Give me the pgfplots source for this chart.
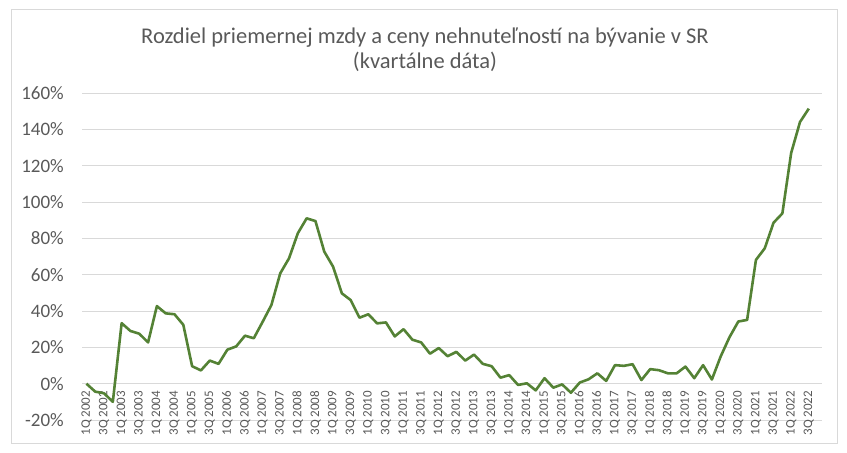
\documentclass[border=0pt]{standalone}
\usepackage{pgfplots}
\pgfplotsset{compat=1.18}
\usepackage{fontspec}
\setmainfont{Carlito}
\definecolor{txt}{HTML}{595959}
\definecolor{grd}{HTML}{D9D9D9}
\definecolor{ln}{HTML}{548235}
\pgfplotstableread{
x y
0 0
1 -4.4
2 -5.3
3 -10
4 33.3
5 29
6 27.5
7 22.7
8 42.7
9 38.7
10 38.2
11 32.4
12 9.6
13 7.3
14 12.7
15 10.9
16 18.7
17 20.5
18 26.4
19 25
20 34
21 43.3
22 60.7
23 69
24 82.8
25 91
26 89.5
27 72.7
28 64.4
29 49.7
30 46
31 36.3
32 38.2
33 33.2
34 33.7
35 26
36 30
37 24.2
38 22.7
39 16.5
40 19.6
41 15.1
42 17.5
43 12.7
44 16
45 10.9
46 9.6
47 3.3
48 4.7
49 -0.7
50 0.2
51 -3.7
52 3
53 -2.2
54 -0.4
55 -5
56 0.6
57 2.4
58 5.7
59 1.5
60 10.2
61 9.8
62 10.7
63 2
64 8
65 7.4
66 5.7
67 5.7
68 9.4
69 3
70 10.2
71 2.3
72 15
73 25.6
74 34.2
75 35.1
76 68.1
77 74.5
78 88.6
79 93.7
80 127
81 144
82 151.4
}\datatable
\begin{document}
\begin{tikzpicture}[x=1bp,y=1bp]
\path[use as bounding box] (0,0) rectangle (847,453);
\draw[grd, line width=0.75bp] (11,10) rectangle (837,444);
\node[txt, font=\fontsize{22.5bp}{25bp}\selectfont, align=center] at (425,403) {Rozdiel priemernej mzdy a ceny nehnuteľností na bývanie v SR\\(kvartálne dáta)};
\begin{axis}[
  at={(82bp,33bp)}, anchor=south west, scale only axis,
  width=740bp, height=327bp,
  xmin=-0.5, xmax=83.5, ymin=-20, ymax=160,
  axis x line*=middle, axis y line*=left,
  hide obscured x ticks=false, hide obscured y ticks=false,
  x axis line style={grd, line width=0.75bp, -},
  y axis line style={draw=none},
  major tick style={draw=none}, minor tick style={draw=none},
  ymajorgrids, grid style={grd, line width=0.75bp},
  ytick={-20,0,20,40,60,80,100,120,140,160},
  yticklabels={-20\%,0\%,20\%,40\%,60\%,80\%,100\%,120\%,140\%,160\%},
  yticklabel style={txt, font=\fontsize{19bp}{19bp}\selectfont, anchor=east, inner sep=0pt},
  yticklabel shift=18bp,
  xtick={0,2,...,82},
  xticklabels={1Q 2002,3Q 2002,1Q 2003,3Q 2003,1Q 2004,3Q 2004,1Q 2005,3Q 2005,1Q 2006,3Q 2006,1Q 2007,3Q 2007,1Q 2008,3Q 2008,1Q 2009,3Q 2009,1Q 2010,3Q 2010,1Q 2011,3Q 2011,1Q 2012,3Q 2012,1Q 2013,3Q 2013,1Q 2014,3Q 2014,1Q 2015,3Q 2015,1Q 2016,3Q 2016,1Q 2017,3Q 2017,1Q 2018,3Q 2018,1Q 2019,3Q 2019,1Q 2020,3Q 2020,1Q 2021,3Q 2021,1Q 2022,3Q 2022},
  xticklabel style={txt, font=\fontsize{13bp}{13bp}\selectfont, rotate=90, anchor=east, inner sep=0pt},
  xticklabel shift=7bp,
  clip=false,
]
\addplot[ln, line width=2.6bp, line join=round, mark=none] table[x=x, y=y] {\datatable};
\end{axis}
\end{tikzpicture}
\end{document}
